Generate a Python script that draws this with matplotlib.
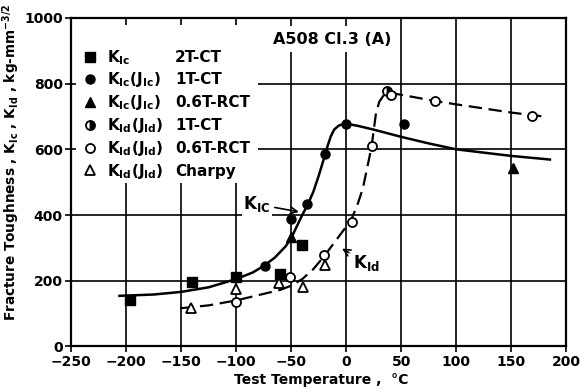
import matplotlib
matplotlib.use("Agg")
import matplotlib.pyplot as plt
from matplotlib.patches import Rectangle

plt.rcParams['font.family'] = ['DejaVu Sans']
plt.rcParams['font.weight'] = 'bold'
plt.rcParams['axes.labelweight'] = 'bold'
plt.rcParams['mathtext.fontset'] = 'custom'
plt.rcParams['mathtext.rm'] = 'DejaVu Sans:bold'
plt.rcParams['mathtext.it'] = 'DejaVu Sans:bold'
plt.rcParams['mathtext.bf'] = 'DejaVu Sans:bold'
plt.rcParams['mathtext.default'] = 'rm'

# ---- data ----
# K_Ic 2T-CT (filled squares)
sq_T = [-196, -140, -100, -60, -40]
sq_K = [141, 195, 212, 222, 309]
# K_Ic(J_Ic) 1T-CT (filled circles)
fc_T = [-74, -50, -36, -19, 0, 52]
fc_K = [245, 387, 433, 585, 678, 676]
# K_Ic(J_Ic) 0.6T-RCT (filled triangles)
ft_T = [-50, 151]
ft_K = [334, 542]
# K_Id(J_Id) 1T-CT (half-filled circles)
hc_T = [37]
hc_K = [778]
# K_Id(J_Id) 0.6T-RCT (open circles)
oc_T = [-100, -51, -20, 5, 23, 41, 81, 169]
oc_K = [136, 212, 277, 380, 610, 765, 747, 702]
# K_Id(J_Id) Charpy (open triangles)
ot_T = [-141, -100, -61, -39, -19]
ot_K = [118, 174, 194, 181, 247]

# K_Ic curve (solid)
kic_T = [-206, -175, -150, -125, -100, -85, -75, -65, -55, -50, -45, -40, -35, -30,
         -25, -20, -17, -14, -11, -7, -3, 0, 10, 25, 50, 75, 100, 125, 150, 185]
kic_K = [154, 158, 166, 180, 205, 225, 245, 270, 305, 330, 365, 400, 432, 470,
         520, 575, 610, 640, 660, 672, 677, 678, 672, 660, 638, 618, 600, 590, 580, 569]
# K_Id curve (dashed)
kid_T = [-151, -125, -100, -75, -60, -50, -40, -30, -20, -10, 0, 5, 10, 15, 20, 23,
         25, 27, 30, 34, 40, 60, 81, 100, 124, 150, 182]
kid_K = [116, 125, 140, 160, 172, 185, 205, 235, 275, 320, 365, 390, 430, 480, 560, 608,
         660, 710, 745, 765, 772, 760, 747, 737, 725, 712, 699]

leg_names = [r'K$_{Ic}$', r'K$_{Ic}$(J$_{Ic}$)', r'K$_{Ic}$(J$_{Ic}$)',
             r'K$_{Id}$(J$_{Id}$)', r'K$_{Id}$(J$_{Id}$)', r'K$_{Id}$(J$_{Id}$)']
leg_specs = ['2T-CT', '1T-CT', '0.6T-RCT', '1T-CT', '0.6T-RCT', 'Charpy']

x_ticks = [-250, -200, -150, -100, -50, 0, 50, 100, 150, 200]
y_ticks = [0, 200, 400, 600, 800, 1000]

# ---- figure ----
W, H = 587, 392
fig = plt.figure(figsize=(W / 100, H / 100), dpi=100)
ax = fig.add_axes([0.121, 0.1163, 0.844, 0.8378])

ax.set_xlim(-250, 200)
ax.set_ylim(0, 1000)
ax.set_xticks(x_ticks)
ax.set_yticks(y_ticks)
ax.grid(True, color='black', lw=1.2, zorder=0)
ax.set_axisbelow(True)
for s in ax.spines.values():
    s.set_linewidth(1.6)
ax.tick_params(direction='out', length=4, width=1.2, labelsize=10, pad=2)

# white area behind the legend
ax.add_patch(Rectangle((0.010, 0.4976), 0.367, 0.481, transform=ax.transAxes,
                       facecolor='white', edgecolor='none', zorder=1.5))

ax.plot(kic_T, kic_K, color='black', lw=1.8, zorder=3)
ax.plot(kid_T, kid_K, color='black', lw=1.6, ls=(0, (6, 3)), zorder=3)

ms = 6.5
h1, = ax.plot(sq_T, sq_K, 's', color='black', ms=ms, ls='none', zorder=4)
h2, = ax.plot(fc_T, fc_K, 'o', color='black', ms=ms, ls='none', zorder=4)
h3, = ax.plot(ft_T, ft_K, '^', color='black', ms=ms + 0.5, ls='none', zorder=4)
h4, = ax.plot(hc_T, hc_K, 'o', color='black', mfc='black', mfcalt='white', fillstyle='right',
              ms=ms, mew=1.3, ls='none', zorder=4)
h5, = ax.plot(oc_T, oc_K, 'o', color='black', mfc='white', ms=ms, mew=1.3, ls='none', zorder=4)
h6, = ax.plot(ot_T, ot_K, '^', color='black', mfc='white', ms=ms + 0.5, mew=1.3, ls='none', zorder=4)

leg = ax.legend([h1, h2, h3, h4, h5, h6], leg_names,
                loc='upper left', bbox_to_anchor=(0.0229, 0.9087), fontsize=11,
                frameon=False, handlelength=1.0, handletextpad=0.6,
                labelspacing=0.25, borderpad=0, borderaxespad=0)
leg.set_zorder(2)

ax.text(-67, 935, 'A508 Cl.3 (A)', fontsize=11.5, va='center', ha='left', zorder=2,
        bbox=dict(facecolor='white', edgecolor='none', pad=4))
ax.annotate(r'K$_{IC}$', xy=(-40.5, 408), xytext=(-81, 433), fontsize=12,
            ha='center', va='center', zorder=5,
            bbox=dict(facecolor='white', edgecolor='none', pad=1),
            arrowprops=dict(arrowstyle='->', color='black', lw=1.2))
ax.annotate(r'K$_{Id}$', xy=(-6, 302), xytext=(18, 255), fontsize=12,
            ha='center', va='center', zorder=5,
            bbox=dict(facecolor='white', edgecolor='none', pad=1),
            arrowprops=dict(arrowstyle='->', color='black', lw=1.2))

ax.set_xlabel('Test Temperature ,  °C', fontsize=10)
ax.xaxis.set_label_coords(0.5045, -0.081)
ax.set_ylabel(r'Fracture Toughness , K$_{Ic}$ , K$_{Id}$ , kg-mm$^{-3/2}$', fontsize=9.8)
ax.yaxis.set_label_coords(-0.099, 0.5615)

# second legend column aligned to the baselines of the first
fig.canvas.draw()
for t, spec in zip(leg.get_texts(), leg_specs):
    xd, yd = t.get_transform().transform(t.get_position())
    fig.text(175 / W, yd / H, spec, fontsize=11, va='baseline', ha='left', zorder=6)

fig.savefig('out.png', dpi=100)
